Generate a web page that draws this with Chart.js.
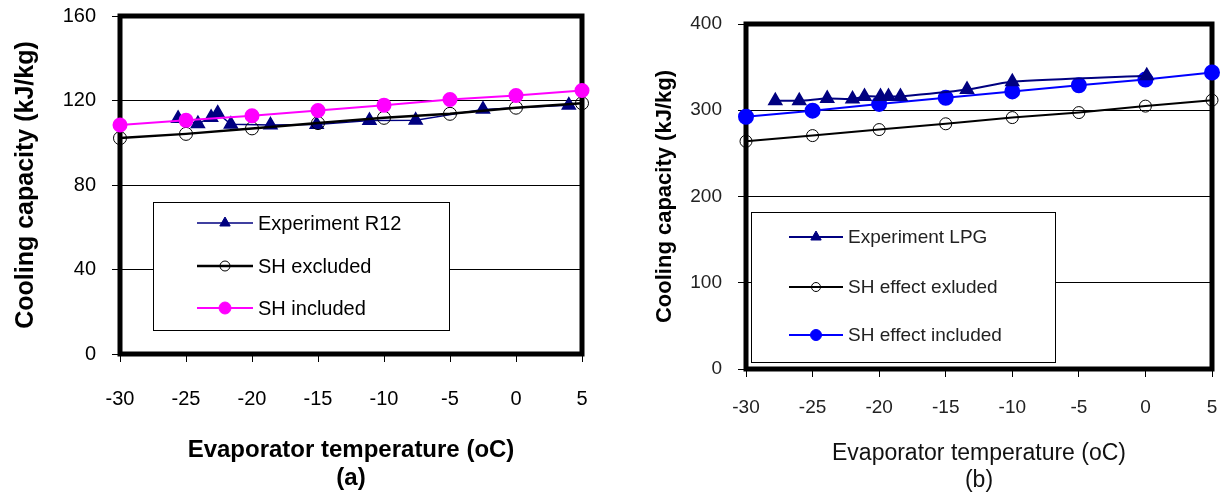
<!DOCTYPE html>
<html>
<head>
<meta charset="utf-8">
<script src="https://cdn.jsdelivr.net/npm/chart.js@4/dist/chart.umd.min.js"></script>
<style>
  body { margin: 0; background: #fff; }
  #wrap { position: relative; width: 1226px; height: 494px; }
  canvas { position: absolute; top: 0; }
  #chartA { left: 0; }
  #chartB { left: 616px; }
</style>
</head>
<body>
<div id="wrap">
  <canvas id="chartA" width="610" height="494"></canvas>
  <canvas id="chartB" width="610" height="494"></canvas>
</div>
<script>
// (a) R12
const simTempA = [-30, -25, -20, -15, -10, -5, 0, 5];
const expTempR12 = [-25.6, -24.1, -23.1, -22.6, -21.6, -18.6, -15.1, -11.1, -7.6, -2.5, 4.0];
const expR12 = [111.5, 109, 112, 114, 108.7, 108.4, 108.6, 110.5, 110.6, 115.8, 117.8];
const shExcludedA = [102.2, 104.2, 106.8, 109.3, 111.8, 113.7, 116.6, 118.7];
const shIncludedA = [108.4, 110.6, 112.8, 115.3, 117.8, 120.5, 122.4, 124.7];

// (b) LPG
const simTempB = [-30, -25, -20, -15, -10, -5, 0, 5];
const expTempLPG = [-27.8, -26.0, -23.9, -22.0, -21.1, -19.9, -19.3, -18.4, -13.4, -10.0, 0.1];
const expLPG = [311, 311, 313.5, 313, 316, 316, 316, 316, 324, 333, 340];
const shExcludedB = [264, 270.6, 277.6, 284.3, 291.5, 297.3, 304.8, 311.7];
const shIncludedB = [292.5, 299.5, 307.3, 314.4, 321.8, 329, 335.6, 343.8];

const FONT = "'Liberation Sans', Arial, sans-serif";

function pts(xs, ys) {
  return xs.map((x, i) => ({ x: x, y: ys[i] }));
}

// thick frame around the plot area, drawn under the markers
const framePlugin = {
  id: "frame",
  beforeDatasetsDraw(chart, args, opts) {
    const { ctx, chartArea: a } = chart;
    ctx.save();
    ctx.strokeStyle = "#000";
    ctx.lineWidth = opts.width || 5;
    ctx.strokeRect(a.left, a.top, a.right - a.left, a.bottom - a.top);
    ctx.restore();
  },
};

function drawMarker(ctx, style, x, y, r, fill, stroke) {
  ctx.beginPath();
  if (style === "triangle") {
    ctx.moveTo(x, y - r);
    ctx.lineTo(x + r * 0.866, y + r * 0.5);
    ctx.lineTo(x - r * 0.866, y + r * 0.5);
    ctx.closePath();
  } else {
    ctx.arc(x, y, r, 0, Math.PI * 2);
  }
  if (fill && fill !== "transparent") {
    ctx.fillStyle = fill;
    ctx.fill();
  }
  ctx.lineWidth = 1;
  ctx.strokeStyle = stroke;
  ctx.stroke();
}

// boxed legend placed inside the plot like the original
const boxLegendPlugin = {
  id: "boxLegend",
  afterDraw(chart, args, o) {
    const ctx = chart.ctx;
    ctx.save();
    ctx.fillStyle = "#fff";
    ctx.fillRect(o.x, o.y, o.w, o.h);
    ctx.strokeStyle = "#000";
    ctx.lineWidth = 1;
    ctx.strokeRect(o.x + 0.5, o.y + 0.5, o.w, o.h);
    ctx.font = o.font;
    ctx.textBaseline = "middle";
    o.rows.forEach((row, i) => {
      const ds = chart.data.datasets[i];
      ctx.strokeStyle = ds.borderColor;
      ctx.lineWidth = ds.borderWidth;
      ctx.beginPath();
      ctx.moveTo(o.lineX0, row);
      ctx.lineTo(o.lineX1, row);
      ctx.stroke();
      drawMarker(ctx, ds.pointStyle, (o.lineX0 + o.lineX1) / 2, row,
        o.markR[i], ds.pointBackgroundColor, ds.pointBorderColor);
      ctx.fillStyle = o.color;
      ctx.fillText(ds.label, o.textX, row + 1);
    });
    ctx.restore();
  },
};

function scales(cfg) {
  return {
    x: {
      type: "linear",
      min: -30,
      max: 5,
      afterFit: (s) => {
        s.height = cfg.xHeight;
        s.paddingLeft = 0;
        s.paddingRight = 0;
      },
      ticks: { stepSize: 5, padding: cfg.xPad, color: cfg.tickColor, font: { family: FONT, size: cfg.tickSize } },
      grid: { drawOnChartArea: false, drawTicks: true, tickLength: 8, color: "#000", lineWidth: 1 },
      border: { display: false },
      title: {
        display: true,
        text: cfg.xTitle,
        color: cfg.titleColor,
        padding: { top: 0, bottom: cfg.xTitlePad },
        font: { family: FONT, size: cfg.xTitleSize, weight: cfg.xTitleWeight, lineHeight: cfg.xTitleLH },
      },
    },
    y: {
      min: 0,
      max: cfg.yMax,
      afterFit: (s) => {
        s.width = cfg.yWidth;
        s.paddingTop = 0;
        s.paddingBottom = 0;
      },
      ticks: { stepSize: cfg.yStep, padding: 16, color: cfg.tickColor, font: { family: FONT, size: cfg.tickSize } },
      grid: { drawOnChartArea: true, drawTicks: true, tickLength: 8, color: "#000", lineWidth: 1 },
      border: { display: false },
      title: {
        display: true,
        text: "Cooling capacity (kJ/kg)",
        color: "#000",
        padding: { top: cfg.yTitlePad, bottom: 0 },
        font: { family: FONT, size: cfg.yTitleSize, weight: "bold" },
      },
    },
  };
}

const chartA = new Chart(document.getElementById("chartA"), {
  type: "line",
  data: {
    datasets: [
      {
        label: "Experiment R12",
        data: pts(expTempR12, expR12),
        borderColor: "#000080",
        borderWidth: 1.5,
        pointStyle: "triangle",
        pointRadius: 7.5,
        pointBackgroundColor: "#000080",
        pointBorderColor: "#000080",
        order: 3,
      },
      {
        label: "SH excluded",
        data: pts(simTempA, shExcludedA),
        borderColor: "#000",
        borderWidth: 2.5,
        pointStyle: "circle",
        pointRadius: 6.5,
        pointBorderWidth: 1,
        pointBackgroundColor: "transparent",
        pointBorderColor: "#000",
        order: 2,
      },
      {
        label: "SH included",
        data: pts(simTempA, shIncludedA),
        borderColor: "#ff00ff",
        borderWidth: 2,
        pointStyle: "circle",
        pointRadius: 6.5,
        pointBackgroundColor: "#ff00ff",
        pointBorderColor: "#ff00ff",
        order: 1,
      },
    ],
  },
  options: {
    responsive: false,
    animation: false,
    clip: false,
    layout: { padding: { left: 0, top: 16, right: 28, bottom: 0 } },
    scales: scales({
      xHeight: 140, xPad: 25, tickSize: 20, tickColor: "#000",
      xTitle: ["Evaporator temperature (oC)", "(a)"], titleColor: "#000",
      xTitlePad: 2, xTitleSize: 24, xTitleWeight: "bold", xTitleLH: "28px",
      yMax: 160, yStep: 40, yWidth: 120, yTitlePad: 11, yTitleSize: 25,
    }),
    plugins: {
      legend: { display: false },
      tooltip: { enabled: false },
      frame: { width: 5 },
      boxLegend: {
        x: 153, y: 202, w: 296, h: 128,
        rows: [223, 266, 308],
        lineX0: 197, lineX1: 253, textX: 258, markR: [6, 5, 6],
        font: "20px " + FONT, color: "#000",
      },
    },
  },
  plugins: [framePlugin, boxLegendPlugin],
});

const chartB = new Chart(document.getElementById("chartB"), {
  type: "line",
  data: {
    datasets: [
      {
        label: "Experiment LPG",
        data: pts(expTempLPG, expLPG),
        borderColor: "#000080",
        borderWidth: 2,
        tension: 0.25,
        pointStyle: "triangle",
        pointRadius: 7,
        pointBackgroundColor: "#000080",
        pointBorderColor: "#000080",
        order: 1,
      },
      {
        label: "SH effect exluded",
        data: pts(simTempB, shExcludedB),
        borderColor: "#000",
        borderWidth: 2,
        pointStyle: "circle",
        pointRadius: 6,
        pointBorderWidth: 1,
        pointBackgroundColor: "transparent",
        pointBorderColor: "#000",
        order: 3,
      },
      {
        label: "SH effect included",
        data: pts(simTempB, shIncludedB),
        borderColor: "#0000ff",
        borderWidth: 2,
        pointStyle: "circle",
        pointRadius: 7,
        pointBackgroundColor: "#0000ff",
        pointBorderColor: "#0000ff",
        order: 2,
      },
    ],
  },
  options: {
    responsive: false,
    animation: false,
    clip: false,
    layout: { padding: { left: 0, top: 24, right: 14, bottom: 0 } },
    scales: scales({
      xHeight: 125, xPad: 19, tickSize: 19, tickColor: "#222",
      xTitle: ["Evaporator temperature (oC)", "(b)"], titleColor: "#111",
      xTitlePad: 0, xTitleSize: 23, xTitleWeight: "normal", xTitleLH: "27px",
      yMax: 400, yStep: 100, yWidth: 130, yTitlePad: 36, yTitleSize: 22,
    }),
    plugins: {
      legend: { display: false },
      tooltip: { enabled: false },
      frame: { width: 5 },
      boxLegend: {
        x: 135, y: 212, w: 304, h: 150,
        rows: [237, 287, 335],
        lineX0: 173, lineX1: 227, textX: 232, markR: [6, 4.5, 5.5],
        font: "19px " + FONT, color: "#222",
      },
    },
  },
  plugins: [framePlugin, boxLegendPlugin],
});
</script>
</body>
</html>
